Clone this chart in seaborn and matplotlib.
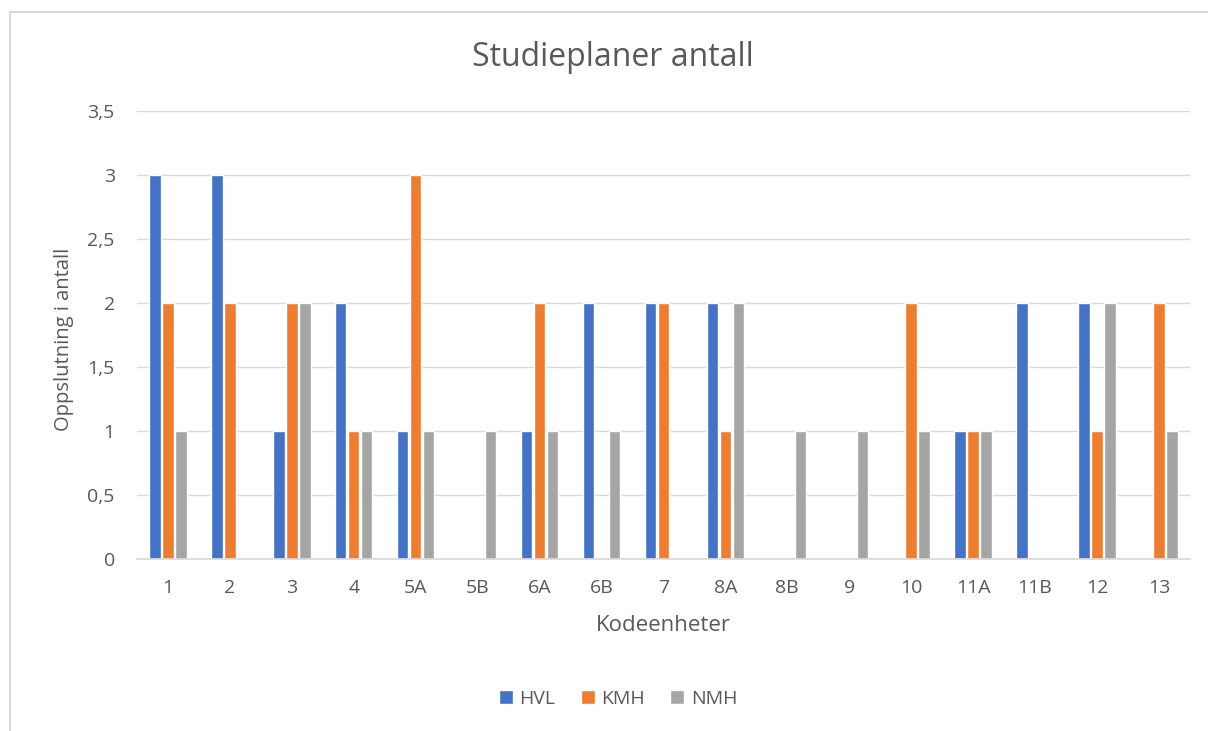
import numpy as np
import pandas as pd
import seaborn as sns
import matplotlib.pyplot as plt
from matplotlib.patches import Rectangle

# DATA
kodeenheter = ["1", "2", "3", "4", "5A", "5B", "6A", "6B", "7", "8A", "8B", "9", "10", "11A", "11B", "12", "13"]
hvl = [3, 3, 1, 2, 1, 0, 1, 2, 2, 2, 0, 0, 0, 1, 2, 2, 0]
kmh = [2, 2, 2, 1, 3, 0, 2, 0, 2, 1, 0, 0, 2, 1, 0, 1, 2]
nmh = [1, 0, 2, 1, 1, 1, 1, 1, 0, 2, 1, 1, 1, 1, 0, 2, 1]
skoler = ["HVL", "KMH", "NMH"]
farger = ["#4472C4", "#ED7D31", "#A5A5A5"]

df = pd.DataFrame({"Kodeenheter": kodeenheter, "HVL": hvl, "KMH": kmh, "NMH": nmh})
df = df.melt(id_vars="Kodeenheter", var_name="Skole", value_name="Antall")

sns.set_theme(style="white")
plt.rcParams['font.family'] = ['Open Sans', 'DejaVu Sans']

fig, ax = plt.subplots(figsize=(12.08, 7.31), dpi=100)
fig.subplots_adjust(left=0.1134, right=0.985, top=0.848, bottom=0.235)

sns.barplot(data=df, x="Kodeenheter", y="Antall", hue="Skole", order=kodeenheter,
            hue_order=skoler, palette=farger, width=0.63, gap=0.12, ax=ax,
            saturation=1, legend=True)

ax.set_ylim(0, 3.5)
ax.set_yticks(np.arange(0, 3.51, 0.5))
ax.set_yticklabels([("%g" % v).replace(".", ",") for v in np.arange(0, 3.51, 0.5)])
ax.yaxis.grid(True, color="#D9D9D9", linewidth=1)
ax.set_axisbelow(True)
for s in ["left", "right", "top"]:
    ax.spines[s].set_visible(False)
ax.spines["bottom"].set_color("#D9D9D9")
ax.tick_params(axis="y", length=0, labelsize=14, labelcolor="#595959", pad=16)
ax.tick_params(axis="x", length=0, labelsize=14, labelcolor="#595959", pad=14)

ax.set_xlabel("Kodeenheter", fontsize=16, color="#595959")
ax.xaxis.set_label_coords(0.5, -0.125)
ax.set_ylabel("Oppslutning i antall", fontsize=14.5, color="#595959")
ax.yaxis.set_label_coords(-0.06, 0.49)
fig.text(613 / 1208, 1 - 57 / 731, "Studieplaner antall", fontsize=23, color="#595959",
         ha="center", va="center")

ax.legend(loc="center", bbox_to_anchor=(618 / 1208, 1 - 699 / 731), bbox_transform=fig.transFigure,
          ncol=3, frameon=False, fontsize=14, handlelength=0.72, handleheight=0.72,
          columnspacing=1.3, handletextpad=0.35, labelcolor="#595959")

fig.patches.append(Rectangle((10 / 1208, -0.05), 1.2, 0.05 + (731 - 12) / 731,
                             transform=fig.transFigure, fill=False,
                             edgecolor="#D9D9D9", linewidth=1.5))

fig.savefig("out.png", dpi=100)
